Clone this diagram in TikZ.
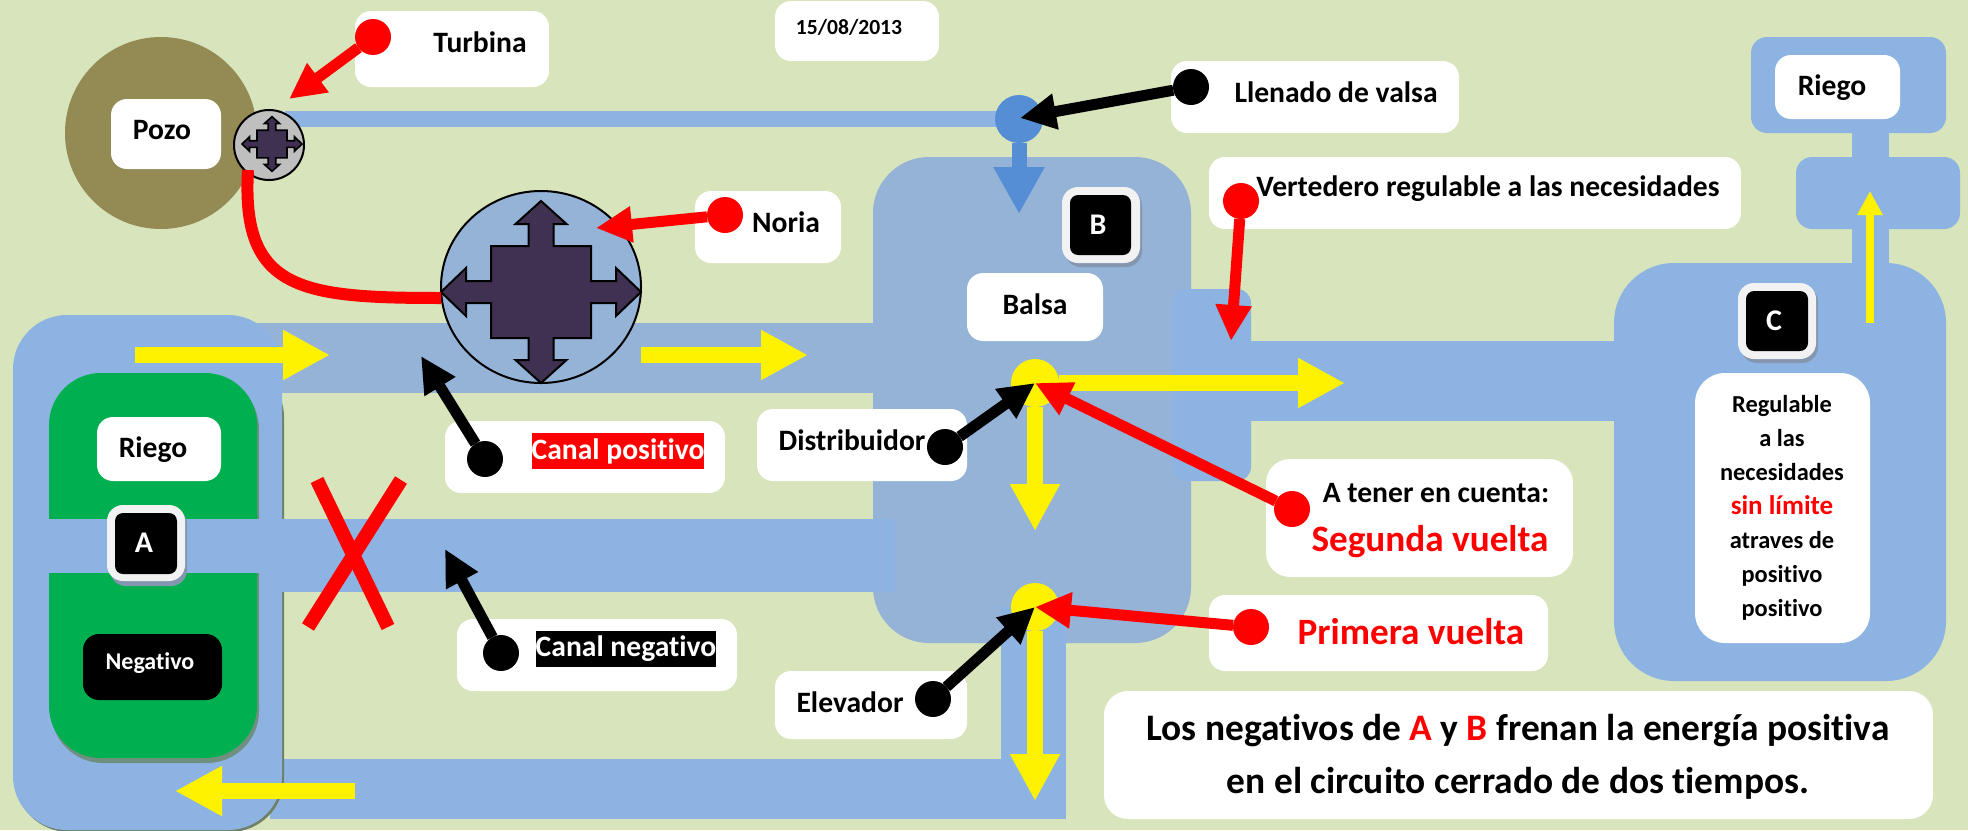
\documentclass[tikz,border=0pt]{standalone}
\usepackage{fontspec}
\setmainfont{Carlito}[Ligatures=NoCommon]
\usetikzlibrary{arrows.meta,shapes.geometric}
\definecolor{bgc}{HTML}{D8E4BC}
\definecolor{pipeA}{HTML}{8DB3E2}
\definecolor{pipeB}{HTML}{95B3D7}
\definecolor{pipeC}{HTML}{558ED5}
\definecolor{greenA}{HTML}{00B050}
\definecolor{olive}{HTML}{948A54}
\definecolor{quadc}{HTML}{403152}
\definecolor{shadowA}{HTML}{6F8066}
\definecolor{shadowG}{HTML}{6F8F80}
\definecolor{shadowB}{HTML}{8496B0}
\definecolor{badgeo}{HTML}{F2F2F2}
\newcommand{\bx}[6]{%
  \pgfmathsetmacro\bxcx{(#3+#5)/2}%
  \pgfmathsetmacro\bxcy{(#4+#6)/2}%
  \pgfmathsetmacro\bxw{(#5-#3)*0.5}%
  \pgfmathsetmacro\bxh{(#6-#4)*0.5}%
  \node[rectangle,inner sep=0pt,outer sep=0pt,minimum width=\bxw pt,minimum height=\bxh pt,#1] (#2) at (\bxcx,\bxcy) {};%
}
\tikzset{
  x=0.5pt,y=-0.5pt,
  wbox/.style={fill=white,rounded corners=8pt},
  wbig/.style={fill=white,rounded corners=12pt},
  lab/.style={inner sep=0pt,font=\fontsize{14.8}{17}\selectfont\bfseries},
  dotn/.style={circle,inner sep=0pt,outer sep=0pt,minimum size=18pt,fill=#1},
  ptr/.style={draw=#1,line width=5.5pt,-{Triangle[length=18pt,width=17pt]}},
  yarr/.style={draw=yellow,line width=8pt,-{Triangle[length=23.5pt,width=23.5pt]}},
  badgeout/.style={fill=badgeo,rounded corners=8pt},
  badgein/.style={fill=black,rounded corners=4pt},
  badgesh/.style={fill=shadowB,rounded corners=8pt},
  blet/.style={inner sep=0pt,text=white,font=\fontsize{15}{17}\selectfont\bfseries},
  pics/quad/.style={code={
    \draw[fill=quadc,draw=black,line width=#1]
      (0,-91)--(25.5,-68)--(12.5,-68)--(12.5,-46)--(50,-46)--(50,-11)--(75,-11)--(75,-24)--(100,0)
      --(75,24)--(75,11)--(50,11)--(50,46)--(12.5,46)--(12.5,68)--(25.5,68)--(0,91)
      --(-25.5,68)--(-12.5,68)--(-12.5,46)--(-50,46)--(-50,11)--(-75,11)--(-75,24)--(-100,0)
      --(-75,-24)--(-75,-11)--(-50,-11)--(-50,-46)--(-12.5,-46)--(-12.5,-68)--(-25.5,-68)--cycle;
  }}
}
\begin{document}
\begin{tikzpicture}
\useasboundingbox (0,0) rectangle (1968,830);
\fill[bgc] (0,0) rectangle (1968,830);
% well
\node[circle,fill=olive,inner sep=0pt,minimum size=96pt] (pozoc) at (161,133) {};
\bx{wbox}{pozob}{111}{99}{221}{169}
\node[lab] (pozot) at (162,130) {Pozo};
% top pipe
\bx{fill=pipeA}{toppipe}{285}{111}{1010}{127}
% pipes
\bx{fill=pipeB}{canalpos}{250}{323}{880}{393}
\bx{fill=pipeA}{botpipe}{270}{759}{1066}{819}
% A tank
\bx{fill=shadowA,rounded corners=27pt}{tankAs}{15}{363}{284}{832}
\bx{fill=pipeA,rounded corners=27pt}{tankA}{13}{315}{282}{830}
\bx{fill=shadowG,rounded corners=26pt}{greenAs}{51}{377}{259}{763}
\bx{fill=greenA,rounded corners=26pt}{greenb}{49}{373}{257}{758}
\bx{fill=pipeA}{bandA}{49}{519}{285}{573}
\bx{wbox}{riegoAb}{97}{417}{221}{481}
\node[lab] (riegoAt) at (153,450) {Riego};
\bx{fill=black,rounded corners=8pt}{negb}{83}{634}{222}{700}
\node[lab,text=white,font=\fontsize{12}{14}\selectfont\bfseries] (negt) at (150,663) {Negativo};
% negative canal
\bx{fill=pipeB,rounded corners=28pt}{balsa}{873}{157}{1191}{643}
\bx{fill=pipeA}{canalneg}{282}{519}{895}{592}
\bx{fill=pipeA}{vertpipe}{1001}{607}{1066}{819}
\bx{badgesh}{bAs}{110}{508}{187}{586}
\bx{badgeout}{bAo}{107}{505}{185}{581}
\bx{badgein}{bAi}{115}{513}{177}{574}
\node[blet] (bAt) at (144,543) {A};
% right side
\bx{fill=pipeA,rounded corners=8pt}{riegotop}{1751}{37}{1946}{133}
\bx{fill=pipeA}{riegocon}{1852}{133}{1889}{270}
\bx{fill=pipeA,rounded corners=8pt}{riegomid}{1796}{157}{1960}{229}
\bx{fill=pipeA,rounded corners=30pt}{tankC}{1614}{263}{1946}{681}
\bx{fill=pipeA,rounded corners=7pt}{vert}{1172}{289}{1251}{481}
\bx{fill=pipeA}{chanC}{1172}{341}{1620}{421}
\bx{wbox}{riegoRb}{1775}{55}{1900}{119}
\node[lab] (riegoRt) at (1832,88) {Riego};
\bx{badgesh}{bCs}{1741}{286}{1818}{363}
\bx{badgeout}{bCo}{1738}{283}{1816}{359}
\bx{badgein}{bCi}{1746}{291}{1808}{351}
\node[blet] (bCt) at (1774,321) {C};
\bx{fill=white,rounded corners=15pt}{regb}{1695}{373}{1870}{643}
\node[inner sep=0pt,align=center,font=\fontsize{12.2}{17}\selectfont\bfseries] (regt) at (1782,508)
  {Regulable\\a las\\necesidades\\\textcolor{red}{\fontsize{13.5}{17}\selectfont sin límite}\\atraves de\\positivo\\positivo};
% B badge, Balsa
\bx{badgesh}{bBs}{1065}{190}{1142}{267}
\bx{badgeout}{bBo}{1062}{187}{1140}{263}
\bx{badgein}{bBi}{1070}{195}{1131}{255}
\node[blet] (bBt) at (1098,225) {B};
\bx{wbox}{balsab}{967}{273}{1103}{341}
\node[lab] (balsat) at (1035,304) {Balsa};
% turbine + noria
\node[circle,draw=black,line width=1pt,fill=black!25,inner sep=0pt,minimum size=35pt] (turb) at (269,145) {};
\pic[scale=0.3] at (272,144) {quad=0.8pt};
\node[ellipse,draw=black,line width=1pt,fill=pipeB,inner sep=0pt,minimum width=100pt,minimum height=96pt] (noria) at (541,287) {};
\pic at (541,292) {quad=1pt};
\coordinate (curveS) at (248,170);
\coordinate (curveE) at (441,298);
\draw[red,line width=6pt] (curveS) .. controls (241,290) and (300,298) .. (curveE);
% filling dot
\node[dotn=pipeC,minimum size=24pt] (filld) at (1019,119) {};
\coordinate (filltip) at (1019,214);
\draw[draw=pipeC,line width=7.5pt,-{Triangle[length=23.5pt,width=24pt]}] (filld) -- (filltip);
% yellow arrows
\coordinate (y1a) at (135,355); \coordinate (y1b) at (330,355);
\draw[yarr] (y1a) -- (y1b);
\coordinate (y2a) at (641,355); \coordinate (y2b) at (808,355);
\draw[yarr] (y2a) -- (y2b);
\coordinate (y3a) at (355,791); \coordinate (y3b) at (175,791);
\draw[yarr] (y3a) -- (y3b);
\node[dotn=yellow,minimum size=24pt] (disty) at (1035,383) {};
\node[dotn=yellow,minimum size=24pt] (elevy) at (1035,607) {};
\coordinate (y4b) at (1345,383);
\draw[yarr] (disty) -- (y4b);
\coordinate (y5b) at (1035,531);
\draw[yarr] (disty) -- (y5b);
\coordinate (y6b) at (1035,801);
\draw[yarr] (elevy) -- (y6b);
\coordinate (y7a) at (1870,323); \coordinate (y7b) at (1870,191);
\draw[draw=yellow,line width=4pt,-{Triangle[length=12pt,width=12pt]}] (y7a) -- (y7b);
% red X
\coordinate (xa) at (317,480); \coordinate (xb) at (388,627);
\coordinate (xc) at (401,480); \coordinate (xd) at (308,627);
\draw[red,line width=7pt] (xa) -- (xb);
\draw[red,line width=7pt] (xc) -- (xd);
% white label boxes
\bx{wbox}{dateb}{775}{1}{939}{61}
\node[lab,font=\fontsize{10.8}{13}\selectfont\bfseries] (datet) at (849,27) {15/08/2013};
\bx{wbox}{turbb}{355}{11}{549}{87}
\node[lab] (turbt) at (480,42) {Turbina};
\bx{wbox}{noriab}{695}{191}{841}{263}
\node[lab] (noriat) at (786,222) {Noria};
\bx{wbox}{llenb}{1171}{61}{1459}{133}
\node[lab] (llent) at (1336,92) {Llenado de valsa};
\bx{wbox}{vertb}{1209}{157}{1741}{229}
\node[lab] (vertt) at (1488,189) {Vertedero regulable a las necesidades};
\bx{wbox}{posb}{445}{421}{725}{493}
\node[lab,fill=red,text=white,minimum width=86pt,minimum height=18pt] (post) at (618,451) {Canal positivo};
\bx{wbox}{negcb}{457}{619}{737}{691}
\node[lab,fill=black,text=white,minimum width=90pt,minimum height=18pt] (negct) at (626,649) {Canal negativo};
\bx{wbox}{distb}{757}{409}{967}{481}
\node[lab] (distt) at (852,440) {Distribuidor};
\bx{wbox}{elevb}{775}{671}{967}{739}
\node[lab] (elevt) at (850,702) {Elevador};
\bx{wbig}{segb}{1266}{459}{1573}{577}
\node[lab] (segt1) at (1436,493) {A tener en cuenta:};
\node[lab,text=red,font=\fontsize{18.6}{21}\selectfont\bfseries] (segt2) at (1430,542) {Segunda vuelta};
\bx{wbox}{primb}{1209}{595}{1548}{671}
\node[lab,text=red,font=\fontsize{18.6}{21}\selectfont\bfseries] (primt) at (1411,632) {Primera vuelta};
\bx{wbig}{noteb}{1104}{691}{1933}{819}
\node[inner sep=0pt,align=center,font=\fontsize{18.7}{26.5}\selectfont\bfseries] (notet) at (1518,757)
  {Los negativos de \textcolor{red}{A} y \textcolor{red}{B} frenan la energía positiva\\en el circuito cerrado de dos tiempos.};
% pointer dots and pointers
\node[dotn=red] (dturb) at (373,37) {};
\coordinate (tturb) at (289,99);
\draw[ptr=red] (dturb) -- (tturb);
\node[dotn=red] (dnor) at (725,215) {};
\coordinate (tnor) at (596,228);
\draw[ptr=red] (dnor) -- (tnor);
\node[dotn=black] (dllen) at (1191,87) {};
\coordinate (tllen) at (1020,118);
\draw[ptr=black] (dllen) -- (tllen);
\node[dotn=red] (dvert) at (1241,201) {};
\coordinate (tvert) at (1231,341);
\draw[ptr=red] (dvert) -- (tvert);
\node[dotn=black] (dpos) at (485,459) {};
\coordinate (tpos) at (421,356);
\draw[ptr=black] (dpos) -- (tpos);
\node[dotn=black] (dneg) at (501,653) {};
\coordinate (tneg) at (445,549);
\draw[ptr=black] (dneg) -- (tneg);
\node[dotn=black] (ddist) at (945,447) {};
\draw[ptr=black] (ddist) -- (disty.center);
\node[dotn=black] (delev) at (933,699) {};
\draw[ptr=black] (delev) -- (elevy.center);
\node[dotn=red] (dseg) at (1292,509) {};
\draw[ptr=red] (dseg) -- (disty.center);
\node[dotn=red] (dprim) at (1251,627) {};
\draw[ptr=red] (dprim) -- (elevy.center);
\end{tikzpicture}
\end{document}
